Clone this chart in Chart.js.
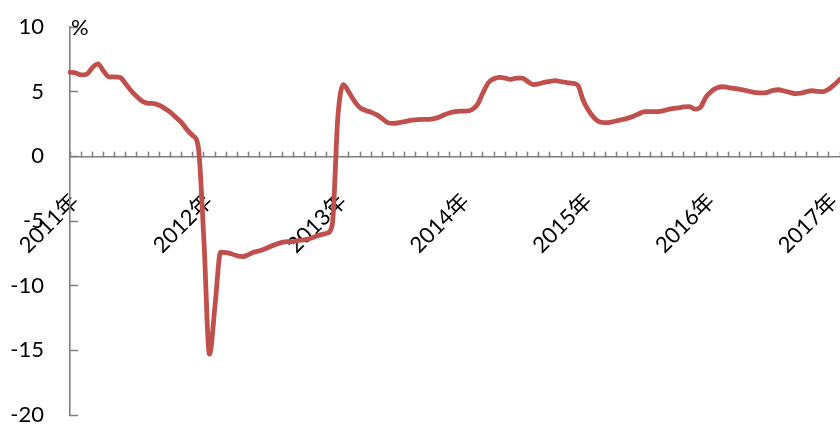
<!DOCTYPE html>
<html>
<head>
<meta charset="utf-8">
<script src="https://cdn.jsdelivr.net/npm/chart.js@4"></script>
<style>
  html, body { margin: 0; padding: 0; background: #fff; }
  #wrap { width: 840px; height: 425px; }
</style>
</head>
<body>
<div id="wrap"><canvas id="c" width="840" height="425"></canvas></div>
<script>
// Year tick labels and the category index where each year starts (semi-monthly points)
const yearLabels = ['2011年', '2012年', '2013年', '2014年', '2015年', '2016年', '2017年'];
const yearStartIndex = [0, 24, 48, 70, 92, 114, 136];

// Series values (%)
const values = [
  6.5, 6.45, 6.3, 6.35, 6.85, 7.15, 6.6, 6.15, 6.15, 6.1, 5.6, 5.05,
  4.6, 4.25, 4.1, 4.08, 3.95, 3.7, 3.4, 3.0, 2.6, 2.05, 1.6, 0.7,
  -6.5, -15.3, -11.5, -7.4, -7.45, -7.55, -7.7, -7.75, -7.6, -7.4, -7.3, -7.15,
  -6.95, -6.8, -6.65, -6.6, -6.6, -6.5, -6.45, -6.35, -6.2, -6.05, -5.95, -5.3,
  3.0, 5.55, 4.95, 4.25, 3.75, 3.55, 3.4, 3.2, 2.9, 2.6, 2.55, 2.6,
  2.68, 2.78, 2.82, 2.85, 2.85, 2.9, 3.0, 3.2, 3.35, 3.45, 3.5, 3.5,
  3.6, 4.0, 4.9, 5.7, 6.0, 6.1, 6.05, 5.95, 6.05, 6.05, 5.8, 5.55,
  5.6, 5.72, 5.8, 5.85, 5.78, 5.7, 5.65, 5.5, 4.3, 3.5, 2.95, 2.65,
  2.6, 2.65, 2.75, 2.85, 2.95, 3.1, 3.3, 3.45, 3.45, 3.45, 3.5, 3.6,
  3.68, 3.75, 3.82, 3.85, 3.65, 3.8, 4.6, 5.05, 5.3, 5.38, 5.32, 5.25,
  5.18, 5.1, 5.0, 4.92, 4.9, 4.95, 5.1, 5.15, 5.05, 4.95, 4.85, 4.88,
  5.0, 5.07, 5.02, 5.0, 5.2, 5.55, 5.95
];

// Y axis tick values
const yTicks = [10, 5, 0, -5, -10, -15, -20];

const categories = values.map((_, i) => {
  const k = yearStartIndex.indexOf(i);
  return k >= 0 ? yearLabels[k] : '';
});

const AXIS = '#808080';
const FONT = 'Lato, "Open Sans", "Noto Sans CJK SC", sans-serif';

const unitPlugin = {
  id: 'unitLabel',
  afterDraw(chart) {
    const y = chart.scales.y;
    const ctx = chart.ctx;
    ctx.save();
    ctx.font = '22px ' + FONT;
    ctx.fillStyle = '#000';
    ctx.textAlign = 'left';
    ctx.textBaseline = 'middle';
    ctx.fillText('%', y.right + 1, y.getPixelForValue(10) + 1);
    ctx.restore();
  }
};

new Chart(document.getElementById('c'), {
  type: 'line',
  data: {
    labels: categories,
    datasets: [{
      data: values,
      borderColor: '#C0504D',
      borderWidth: 4.8,
      pointRadius: 0,
      cubicInterpolationMode: 'monotone',
      borderCapStyle: 'round',
      borderJoinStyle: 'round',
      fill: false
    }]
  },
  options: {
    responsive: false,
    animation: false,
    devicePixelRatio: 1,
    layout: { padding: { top: 27, bottom: 10, left: 0, right: 0 } },
    plugins: { legend: { display: false }, tooltip: { enabled: false } },
    scales: {
      x: {
        type: 'category',
        position: { y: 0 },
        offset: false,
        border: { display: true, color: AXIS, width: 1.6 },
        grid: {
          display: true,
          drawOnChartArea: false,
          drawTicks: true,
          tickLength: -6,
          tickWidth: 1.5,
          tickColor: ctx => (ctx.index % 2 === 0 ? AXIS : 'rgba(0,0,0,0)')
        },
        ticks: {
          autoSkip: false,
          minRotation: 45,
          maxRotation: 45,
          padding: 38,
          labelOffset: 5,
          color: '#000',
          font: { family: FONT, size: 22 }
        },
        afterFit(s) { s.paddingLeft = 0; s.paddingRight = 0; }
      },
      y: {
        position: 'left',
        min: -20,
        max: 10,
        afterBuildTicks(s) { s.ticks = yTicks.map(v => ({ value: v })); },
        border: { display: true, color: AXIS, width: 1.6 },
        grid: {
          display: true,
          drawOnChartArea: false,
          drawTicks: true,
          tickLength: -8,
          tickWidth: 1.5,
          tickColor: AXIS
        },
        ticks: {
          padding: 34,
          color: '#000',
          font: { family: FONT, size: 22 }
        },
        afterFit(s) { s.width = 70; s.paddingTop = 0; s.paddingBottom = 0; }
      }
    }
  },
  plugins: [unitPlugin]
});
</script>
</body>
</html>
